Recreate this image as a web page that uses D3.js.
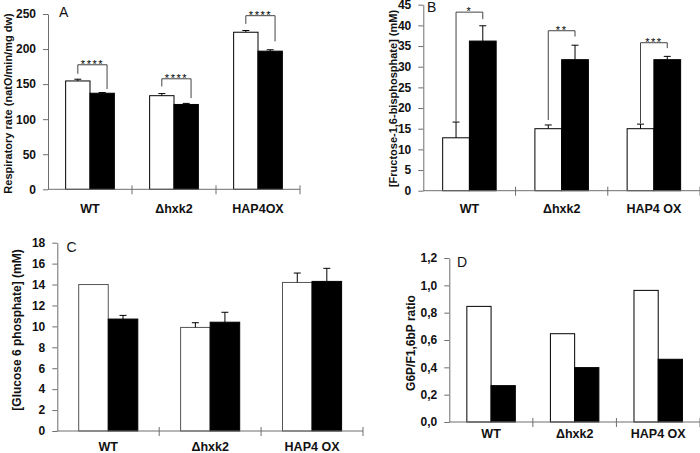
<!DOCTYPE html>
<html><head><meta charset="utf-8">
<script src="https://cdn.jsdelivr.net/npm/d3@7"></script>
<style>
html,body{margin:0;padding:0;background:#fff;}
svg{display:block;font-family:"Liberation Sans",Arial,sans-serif;}
</style></head>
<body>
<svg id="chart" width="700" height="453"></svg>
<script>
// ---------- DATA ----------
const categoriesA = ["WT", "Δhxk2", "HAP4OX"];
const categoriesBCD = ["WT", "Δhxk2", "HAP4 OX"];

const respWhite = [154.5, 133.5, 224];
const respWhiteErr = [2.5, 3, 2.5];
const respBlack = [137, 121, 197];
const respBlackErr = [1, 1.5, 2];
const respTicks = [0, 50, 100, 150, 200, 250];
const respSig = ["****", "****", "****"];
const respBracketLeft = [164.7, 146.6, 236];
const respBracketTop = [177.6, 157.6, 247.6];
const respBracketRight = [142.9, 130, 210.9];

const fbpWhite = [12.8, 15.0, 15.0];
const fbpWhiteErr = [3.8, 0.9, 1.1];
const fbpBlack = [36.2, 31.7, 31.7];
const fbpBlackErr = [3.7, 3.5, 0.8];
const fbpTicks = [0, 5, 10, 15, 20, 25, 30, 35, 40, 45];
const fbpSig = ["*", "**", "***"];
const fbpBracketLeft = [16.7, 17.1, 16.3];
const fbpBracketTop = [43.2, 38.7, 35.8];
const fbpBracketRight = [41.5, 37.3, 34.5];

const g6pWhite = [14.0, 9.9, 14.2];
const g6pWhiteErr = [0, 0.45, 0.9];
const g6pBlack = [10.7, 10.4, 14.3];
const g6pBlackErr = [0.35, 0.95, 1.25];
const g6pTicks = [0, 2, 4, 6, 8, 10, 12, 14, 16, 18];

const ratioWhite = [0.846, 0.646, 0.963];
const ratioBlack = [0.266, 0.398, 0.459];
const ratioTicks = [0, 0.2, 0.4, 0.6, 0.8, 1.0, 1.2];

// ---------- DRAWING ----------
const svg = d3.select("#chart");
const AXIS = "#6e6e6e";

function panel(o) {
  const g = svg.append("g");
  const y = d3.scaleLinear().domain([0, o.ticks[o.ticks.length - 1]]).range([o.yBot, o.yTop]);
  const p = 0.42;
  const x = d3.scaleBand().domain(o.cats).range([o.x0, o.x1]).paddingInner(p).paddingOuter(p / 2);
  const bw = x.bandwidth() / 2;

  o.cats.forEach((c, i) => {
    const xs = x(c);
    g.append("rect").attr("x", xs).attr("y", y(o.white[i])).attr("width", bw)
      .attr("height", y(0) - y(o.white[i])).attr("fill", "#fff")
      .attr("stroke", o.whiteStroke || "#000").attr("stroke-width", 1);
    g.append("rect").attr("x", xs + bw).attr("y", y(o.black[i])).attr("width", bw)
      .attr("height", y(0) - y(o.black[i])).attr("fill", "#000")
      .attr("stroke", "#000").attr("stroke-width", 1);
    const eb = (cx, v, e) => {
      if (!e) return;
      g.append("line").attr("x1", cx).attr("x2", cx).attr("y1", y(v)).attr("y2", y(v + e))
        .attr("stroke", "#000").attr("stroke-width", 1);
      g.append("line").attr("x1", cx - 3.5).attr("x2", cx + 3.5).attr("y1", y(v + e)).attr("y2", y(v + e))
        .attr("stroke", "#000").attr("stroke-width", 1);
    };
    if (o.whiteErr) eb(xs + bw / 2, o.white[i], o.whiteErr[i]);
    if (o.blackErr) eb(xs + bw * 1.5, o.black[i], o.blackErr[i]);
    if (o.sig) {
      const lx = xs + bw / 2;
      const rx = xs + bw + bw * o.rightFrac;
      g.append("path")
        .attr("d", `M${lx},${y(o.bl[i])}V${y(o.bt[i])}H${rx}V${y(o.br[i])}`)
        .attr("fill", "none").attr("stroke", "#444").attr("stroke-width", 1);
      g.append("text").attr("x", (lx + rx) / 2).attr("y", y(o.bt[i]) + 3)
        .attr("text-anchor", "middle").attr("font-size", 11).attr("letter-spacing", 1.5)
        .attr("fill", "#000").text(o.sig[i]);
    }
  });

  const ya = d3.axisLeft(y).tickValues(o.ticks).tickSize(5).tickSizeOuter(0).tickPadding(7)
    .tickFormat(o.fmt || (d => d));
  const yg = g.append("g").attr("transform", `translate(${o.x0},0)`).call(ya);
  yg.selectAll("path,line").attr("stroke", AXIS);
  yg.selectAll("text").attr("font-size", 12).attr("font-weight", "bold")
    .attr("font-family", "'Liberation Sans',Arial,sans-serif").attr("fill", "#111");

  g.append("line").attr("x1", o.x0).attr("x2", o.x1).attr("y1", o.yBot).attr("y2", o.yBot)
    .attr("stroke", AXIS).attr("stroke-width", 1);
  const step = x.step();
  for (let k = 1; k <= o.cats.length; k++) {
    const tx = o.x0 + k * step;
    g.append("line").attr("x1", tx).attr("x2", tx).attr("y1", o.yBot - 4).attr("y2", o.yBot + 5)
      .attr("stroke", AXIS).attr("stroke-width", 1);
  }
  o.cats.forEach(c => {
    g.append("text").attr("x", x(c) + x.bandwidth() / 2).attr("y", o.catY)
      .attr("text-anchor", "middle").attr("font-size", 12.5).attr("font-weight", "bold")
      .attr("fill", "#111").text(c);
  });

  g.append("text").attr("transform", `translate(${o.titleX},${o.titleY}) rotate(-90)`)
    .attr("text-anchor", "middle").attr("dominant-baseline", "central")
    .attr("font-size", o.titleSize || 11).attr("font-weight", "bold").attr("fill", "#111")
    .text(o.title);

  g.append("text").attr("x", o.letterX).attr("y", o.letterY).attr("font-size", 14)
    .attr("fill", "#111").text(o.letter);
}

panel({
  cats: categoriesA, white: respWhite, whiteErr: respWhiteErr, black: respBlack, blackErr: respBlackErr,
  ticks: respTicks, x0: 48, x1: 300, yTop: 14, yBot: 189.3, catY: 213,
  sig: respSig, bl: respBracketLeft, bt: respBracketTop, br: respBracketRight, rightFrac: 0.7,
  title: "Respiratory rate  (natO/min/mg dw)", titleX: 7.5, titleY: 103.5, titleSize: 11,
  letter: "A", letterX: 59, letterY: 17
});

panel({
  cats: categoriesBCD, white: fbpWhite, whiteErr: fbpWhiteErr, black: fbpBlack, blackErr: fbpBlackErr,
  ticks: fbpTicks, x0: 423.3, x1: 700, yTop: 4.7, yBot: 190.7, catY: 213,
  sig: fbpSig, bl: fbpBracketLeft, bt: fbpBracketTop, br: fbpBracketRight, rightFrac: 0.5,
  title: "[Fructose-1,6-bisphosphate] (mM)", titleX: 392.5, titleY: 98.5, titleSize: 11,
  letter: "B", letterX: 427, letterY: 12
});

panel({
  cats: categoriesBCD, white: g6pWhite, whiteErr: g6pWhiteErr, black: g6pBlack, blackErr: g6pBlackErr,
  ticks: g6pTicks, x0: 57.3, x1: 363, yTop: 242.7, yBot: 431, catY: 451,
  whiteStroke: "#555",
  title: "[Glucose 6 phosphate] (mM)", titleX: 17, titleY: 330, titleSize: 12,
  letter: "C", letterX: 66.5, letterY: 252
});

panel({
  cats: categoriesBCD, white: ratioWhite, black: ratioBlack,
  ticks: ratioTicks, x0: 449.3, x1: 700, yTop: 258, yBot: 422, catY: 438,
  fmt: d => d3.format(".1f")(d).replace(".", ","),
  title: "G6P/F1,6bP ratio", titleX: 411, titleY: 343, titleSize: 12,
  letter: "D", letterX: 457, letterY: 267
});
</script>
</body></html>
